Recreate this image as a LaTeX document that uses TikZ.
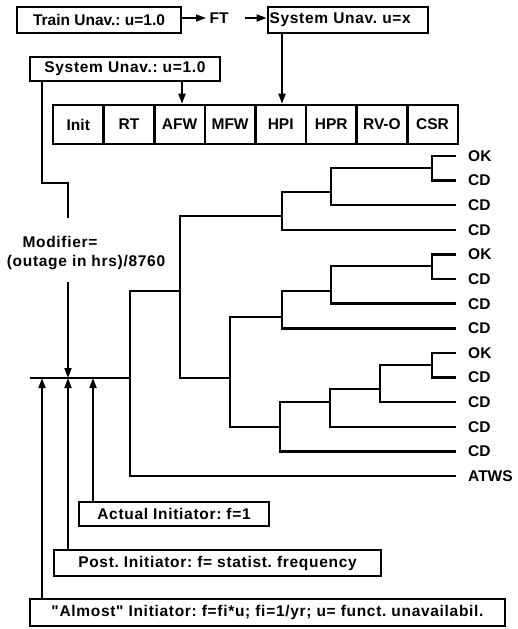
\documentclass[tikz,border=0pt]{standalone}
\usepackage{fontspec}
\setmainfont{Liberation Sans}[Ligatures=TeXOff]
\newfontfamily\widefont{Liberation Sans}[Ligatures=TeXOff,LetterSpace=4.5]
\usetikzlibrary{arrows.meta}
\frenchspacing
\begin{document}
\begin{tikzpicture}[x=1pt,y=-1pt,
  every node/.style={font=\fontsize{15.5}{18}\selectfont\bfseries},
  wide/.style={font=\fontsize{15.5}{18}\selectfont\widefont\bfseries},
  box/.style={draw,line width=2.8pt,inner sep=0pt,minimum height=#1},
  cell/.style={draw,line width=2.6pt,inner sep=0pt,minimum height=39pt,minimum width=50.6pt},
  tree/.style={line width=2.5pt},
  leaf/.style={anchor=west,inner sep=0pt},
  arr/.style={line width=1.8pt,-{Triangle[length=10pt,width=7pt]}},
  conn/.style={line width=1.8pt}]
\useasboundingbox (0,0) rectangle (518,629);
% top boxes
\node[box=26pt,minimum width=164pt] (t1) at (99,20) {Train Unav.: u=1.0};
\node (ft) at (219,18) {FT};
\node[box=26pt,wide,minimum width=160pt,text width=157pt,align=left] (t2) at (348,20) {System Unav. u=x};
\draw[arr] (t1.east |- ft) -- (ft.west);
\coordinate (fte) at (245,18);
\draw[arr] (fte) -- (t2.west |- ft);
\node[box=24pt,wide,minimum width=190pt] (s1) at (125,69) {System Unav.: u=1.0};
% cells
\foreach \t [count=\i] in {Init,RT,AFW,MFW,HPI,HPR,RV-O,CSR}
  \node[cell] (c\i) at ({53+25.3+50.6*(\i-1)},124.5) {\t};
\draw[arr] (s1.south -| 182,0) -- (c3.north -| 182,0);
\draw[arr] (t2.south -| 282,0) -- (c5.north -| 282,0);
% modifier
\node[wide] (mod1) at (60,242) {Modifier=};
\node[wide] (mod2) at (86,263) {(outage in hrs)/8760};
\coordinate (m0) at (68,218);
\coordinate (m1) at (68,282);
\coordinate (root0) at (30,378);
\coordinate (R) at (130,378);
\draw[conn] (s1.south -| 42,0) |- (68,183) -- (m0);
\draw[arr] (m1) -- (68,378);
\draw[tree] (root0) -- (R);
% leaves
\foreach \l [count=\i] in {OK,CD,CD,CD,OK,CD,CD,CD,OK,CD,CD,CD,CD,ATWS}{
  \coordinate (e\i) at (456,{156+24.615*(\i-1)});
  \node[leaf] (l\i) at ([xshift=12pt]e\i) {\l};
}
% junctions
\coordinate (A) at (180,291);
\coordinate (B) at (282,216);
\coordinate (D) at (331,192);
\coordinate (E) at (432,168);
\coordinate (C) at (230,378);
\coordinate (F) at (282,317);
\coordinate (H) at (331,291);
\coordinate (I) at (432,266);
\coordinate (G) at (280,427);
\coordinate (K) at (330,402);
\coordinate (L) at (380,389);
\coordinate (M) at (432,365);
\draw[tree] (R) |- (A); \draw[tree] (R) |- (e14);
\draw[tree] (A) |- (B); \draw[tree] (A) |- (C);
\draw[tree] (B) |- (D); \draw[tree] (B) |- (e4);
\draw[tree] (D) |- (E); \draw[tree] (D) |- (e3);
\draw[tree] (E) |- (e1); \draw[tree] (E) |- (e2);
\draw[tree] (C) |- (F); \draw[tree] (C) |- (G);
\draw[tree] (F) |- (H); \draw[tree] (F) |- (e8);
\draw[tree] (H) |- (I); \draw[tree] (H) |- (e7);
\draw[tree] (I) |- (e5); \draw[tree] (I) |- (e6);
\draw[tree] (G) |- (K); \draw[tree] (G) |- (e13);
\draw[tree] (K) |- (L); \draw[tree] (K) |- (e12);
\draw[tree] (L) |- (M); \draw[tree] (L) |- (e11);
\draw[tree] (M) |- (e9); \draw[tree] (M) |- (e10);
% bottom boxes
\node[box=24pt,wide,minimum width=190pt] (b1) at (174,514) {Actual Initiator: f=1};
\node[box=26pt,wide,minimum width=327pt] (b2) at (217.5,563) {Post. Initiator: f= statist. frequency};
\node[box=27pt,wide,minimum width=475pt] (b3) at (267.5,612.5) {"Almost" Initiator: f=fi*u; fi=1/yr; u= funct. unavailabil.};
\draw[arr] (b1.north -| 93,0) -- (93,378);
\draw[arr] (b2.north -| 68,0) -- (68,378);
\draw[arr] (b3.north -| 42,0) -- (42,378);
\end{tikzpicture}
\end{document}
